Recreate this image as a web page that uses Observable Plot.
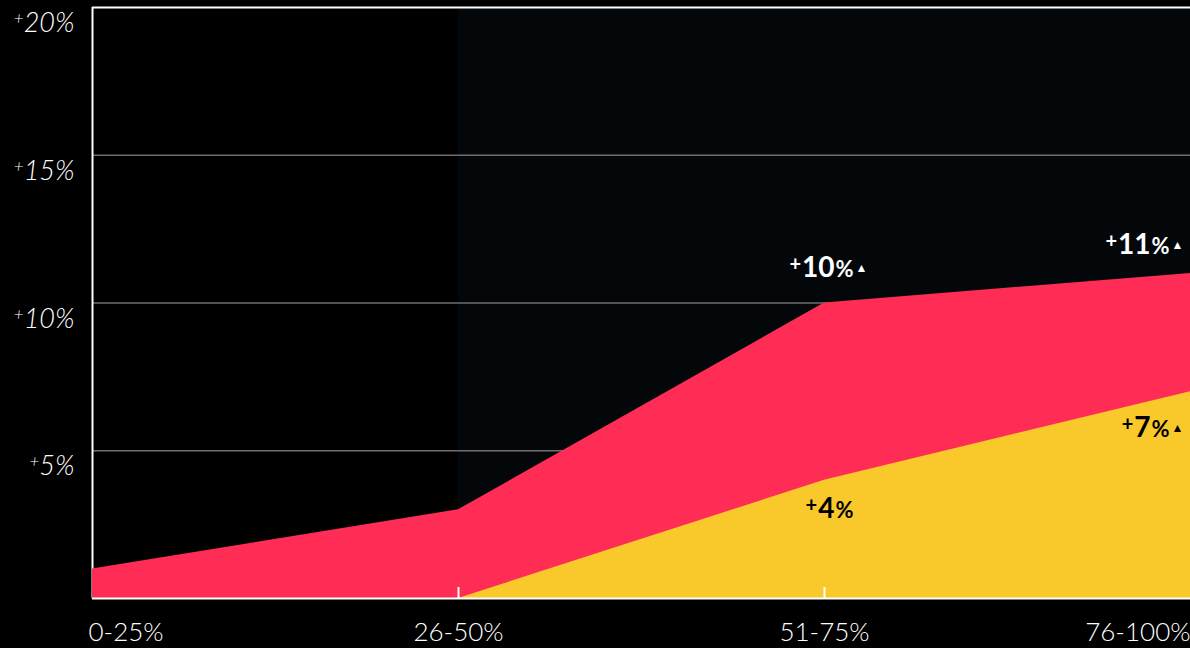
<!DOCTYPE html>
<html>
<head>
<meta charset="utf-8">
<script src="https://cdn.jsdelivr.net/npm/d3@7"></script>
<script src="https://cdn.jsdelivr.net/npm/@observablehq/plot@0.6"></script>
<style>
  html, body { margin: 0; padding: 0; background: #000; }
  #chart svg { display: block; }
</style>
</head>
<body>
<div id="chart"></div>
<script>
// ---- data ----
const categories = ["0-25%", "26-50%", "51-75%", "76-100%"];
const redValues = [1, 3, 10, 11];
const yellowValues = [0, 0, 4, 7];
const yTicks = [5, 10, 15, 20];
const gridValues = [5, 10, 15];
const yMax = 20;
const shadedFrom = "26-50%";
const innerTickCategories = ["26-50%", "51-75%"];
// value labels: category, arrow flag
const redLabelCats = ["51-75%", "76-100%"];
const redLabelArrows = [true, true];
const yellowLabelCats = ["51-75%", "76-100%"];
const yellowLabelArrows = [false, true];

const RED = "#ff2d55";
const YELLOW = "#f9c92c";

const idx = c => categories.indexOf(c);
const rows = categories.map((c, i) => ({i, c, red: redValues[i], yellow: yellowValues[i]}));
const lab = (cat, vals, arrow) => ({i: idx(cat), v: vals[idx(cat)], t: `+${vals[idx(cat)]}%${arrow ? "▲" : ""}`});
const redLabs = redLabelCats.map((c, k) => lab(c, redValues, redLabelArrows[k]));
const yelLabs = yellowLabelCats.map((c, k) => lab(c, yellowValues, yellowLabelArrows[k]));
const last = categories.length - 1;

const xAxisOpts = {tickSize: 0, tickPadding: 24, fontSize: 26, fontWeight: 300, tickFormat: i => categories[i], fill: "#fff", label: null};

const chart = Plot.plot({
  width: 1190,
  height: 648,
  marginLeft: 92,
  marginRight: 0,
  marginTop: 7,
  marginBottom: 50,
  style: {background: "#000", color: "#fff", fontFamily: "Lato, 'Open Sans', sans-serif", overflow: "visible"},
  x: {type: "linear", domain: [0, last], label: null},
  y: {domain: [0, yMax], label: null},
  marks: [
    Plot.rect([shadedFrom], {x1: d => idx(d), x2: () => last, y1: () => 0, y2: () => yMax, fill: "#03070a"}),
    Plot.ruleY(gridValues, {stroke: "#6e6e6e", strokeWidth: 1.5}),
    Plot.ruleX([0], {stroke: "#fff", strokeWidth: 2}),
    Plot.areaY(rows, {x: "i", y: "red", fill: RED}),
    Plot.areaY(rows, {x: "i", y: "yellow", fill: YELLOW}),
    Plot.ruleY([0], {stroke: "#fff", strokeWidth: 2}),
    Plot.ruleY([yMax], {stroke: "#fff", strokeWidth: 2}),
    Plot.ruleX(innerTickCategories.map(idx), {stroke: "#fff", strokeWidth: 2, insetTop: 580}),
    Plot.axisY(yTicks, {tickSize: 0, tickPadding: 18, fontSize: 27, fontStyle: "italic", fontWeight: 300, dy: 16, tickFormat: d => `+${d}%`, fill: "#fff", label: null}),
    Plot.axisX([0], {...xAxisOpts, textAnchor: "start", dx: -4}),
    Plot.axisX(innerTickCategories.map(idx), xAxisOpts),
    Plot.axisX([last], {...xAxisOpts, textAnchor: "end"}),
    Plot.text([redLabs[0]], {x: "i", y: "v", text: "t", fill: "#fff", fontSize: 28, fontWeight: "bold", textAnchor: "middle", dx: 4, dy: -35}),
    Plot.text([redLabs[1]], {x: "i", y: "v", text: "t", fill: "#fff", fontSize: 28, fontWeight: "bold", textAnchor: "end", dx: -7, dy: -28}),
    Plot.text([yelLabs[0]], {x: "i", y: "v", text: "t", fill: "#000", fontSize: 28, fontWeight: "bold", textAnchor: "middle", dx: 5, dy: 29}),
    Plot.text([yelLabs[1]], {x: "i", y: "v", text: "t", fill: "#000", fontSize: 28, fontWeight: "bold", textAnchor: "end", dx: -7, dy: 36})
  ]
});

document.getElementById("chart").appendChild(chart);

// rich text: small raised "+", smaller "%", tiny triangle
const NS = "http://www.w3.org/2000/svg";
function rich(el, parts) {
  el.textContent = "";
  let shift = 0;
  for (const p of parts) {
    const ts = document.createElementNS(NS, "tspan");
    ts.textContent = p.t;
    const target = -(p.rise || 0);
    if (target !== shift) { ts.setAttribute("dy", target - shift); shift = target; }
    if (p.dx) ts.setAttribute("dx", p.dx);
    if (p.size) ts.setAttribute("font-size", p.size);
    if (p.weight) ts.setAttribute("font-weight", p.weight);
    el.appendChild(ts);
  }
}
chart.querySelectorAll("text").forEach(el => {
  const s = el.textContent;
  const m = s.match(/^\+(\d+)%(▲?)$/);
  if (!m) return;
  const g = el.closest("g[aria-label]");
  const isAxis = g && g.getAttribute("aria-label").includes("axis");
  if (isAxis) {
    rich(el, [{t: "+", size: 17, rise: 8}, {t: m[1] + "%"}]);
  } else {
    const parts = [{t: "+", size: 20, rise: 6}, {t: m[1], dx: 1}, {t: "%", size: 22, dx: 1}];
    if (m[2]) parts.push({t: "▲", size: 12, rise: 5, dx: 2});
    rich(el, parts);
  }
});
</script>
</body>
</html>
